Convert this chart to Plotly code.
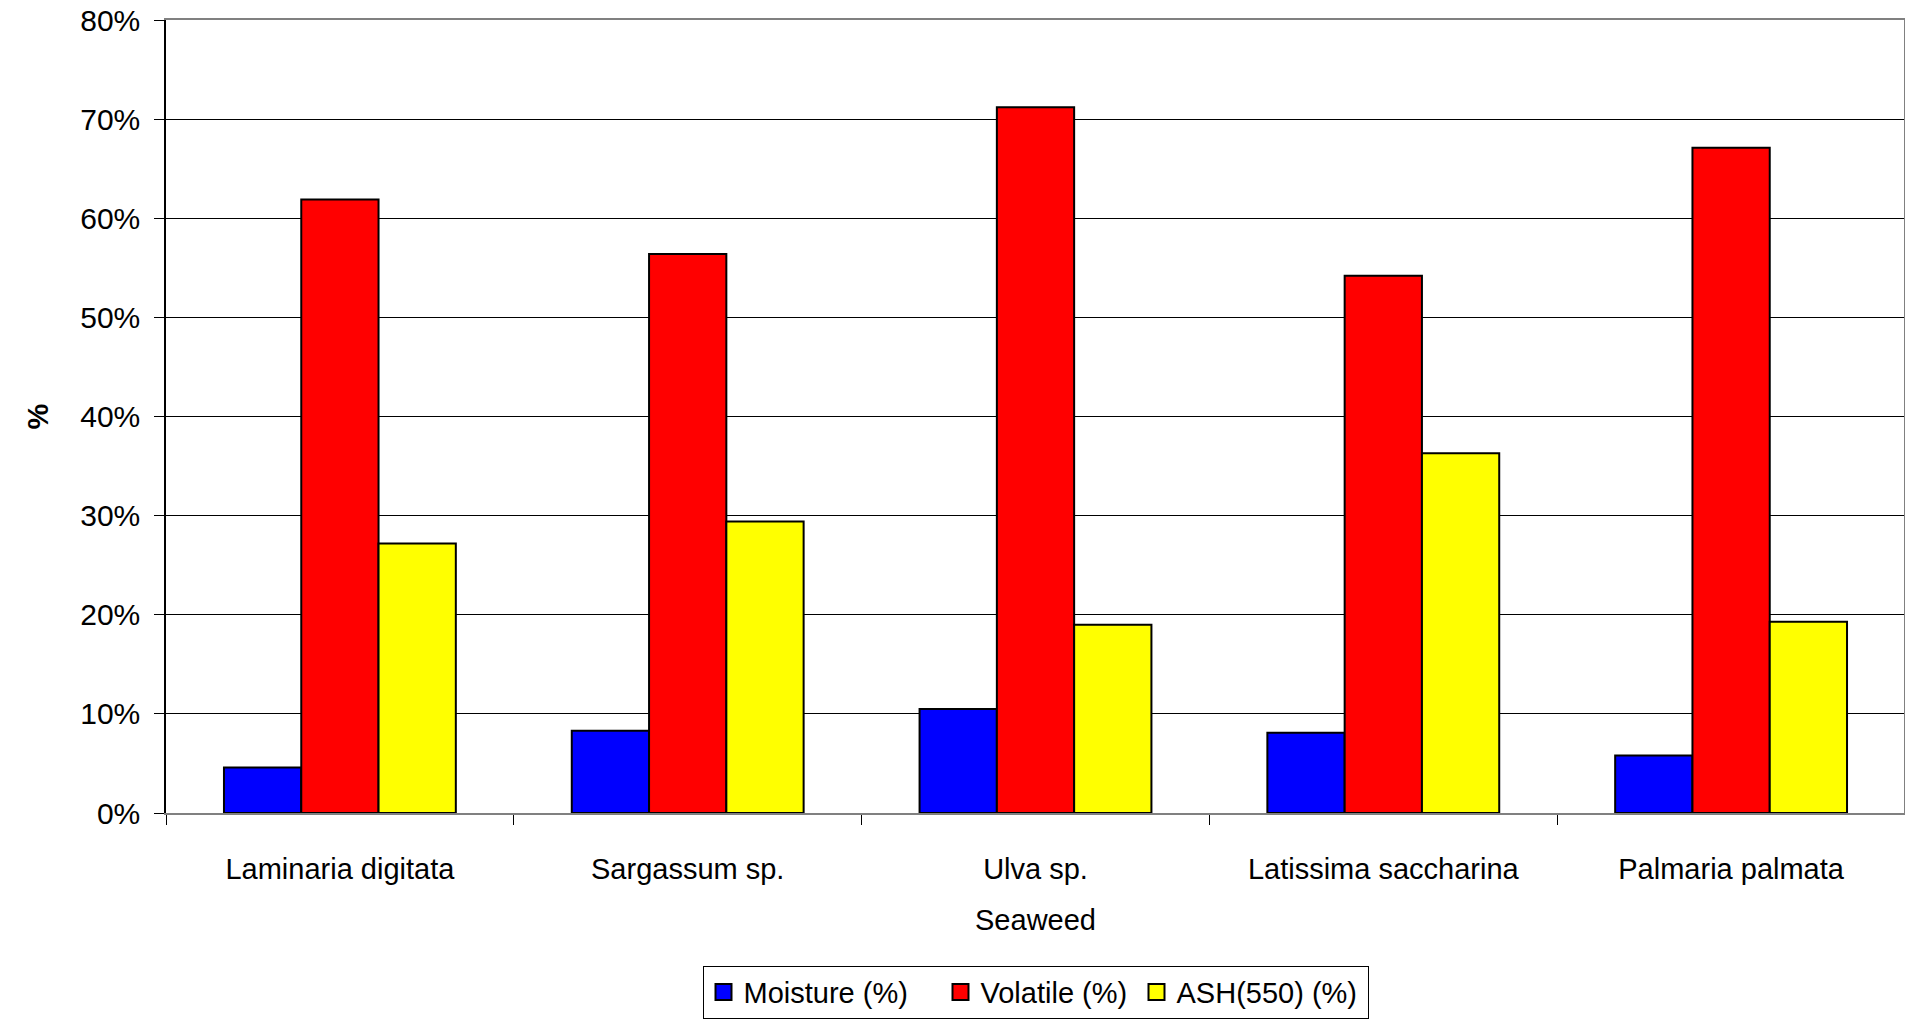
import plotly.graph_objects as go

# Proximate composition of five seaweed species (% of sample mass)
seaweeds = ["Laminaria digitata", "Sargassum sp.", "Ulva sp.",
            "Latissima saccharina", "Palmaria palmata"]
moisture = [4.6, 8.3, 10.5, 8.1, 5.8]
volatile = [61.9, 56.4, 71.2, 54.2, 67.1]
ash_550 = [27.2, 29.4, 19.0, 36.3, 19.3]

series_names = ["Moisture (%)", "Volatile (%)", "ASH(550) (%)"]
series_colors = ["#0000FF", "#FF0000", "#FFFF00"]
y_tick_values = [0, 10, 20, 30, 40, 50, 60, 70, 80]
y_tick_labels = ["0%", "10%", "20%", "30%", "40%", "50%", "60%", "70%", "80%"]

FONT = "Arial, 'Liberation Sans', sans-serif"
legend_entry_widths = [192, 151, 186]

fig = go.Figure()
for name, values, color in zip(series_names, [moisture, volatile, ash_550], series_colors):
    fig.add_trace(go.Bar(
        x=seaweeds, y=values, name=name, showlegend=False,
        marker=dict(color=color, line=dict(color="#000000", width=2)),
    ))

# legend keys: square swatches with a black outline
for name, color, lw in zip(series_names, series_colors, legend_entry_widths):
    fig.add_trace(go.Scatter(
        x=[None], y=[None], mode="markers", name=name, legendwidth=lw,
        marker=dict(symbol="square", size=16, color=color,
                    line=dict(color="#000000", width=2)),
        hoverinfo="skip",
    ))

fig.update_layout(
    width=1905, height=1019,
    margin=dict(l=166, r=0, t=20, b=199, pad=0),
    paper_bgcolor="#FFFFFF", plot_bgcolor="#FFFFFF",
    font=dict(family=FONT, size=29, color="#000000"),
    barmode="group", bargap=1/3, bargroupgap=0,
    showlegend=True,
    legend=dict(
        orientation="h", x=0.5, xanchor="center", y=-0.1925, yanchor="top",
        bgcolor="#FFFFFF", bordercolor="#000000", borderwidth=1,
        font=dict(family=FONT, size=29, color="#000000"),
        itemsizing="trace",
    ),
)

fig.update_xaxes(
    type="category",
    showline=True, linecolor="#808080", linewidth=2, mirror=True,
    ticks="outside", tickson="boundaries", ticklen=10, tickcolor="#000000", tickwidth=1,
    showgrid=False,
    ticklabelstandoff=29,
    tickfont=dict(size=29),
    title=dict(text="Seaweed", font=dict(size=29), standoff=26),
)

fig.update_yaxes(
    range=[0, 80], tickvals=y_tick_values, ticktext=y_tick_labels,
    showline=True, linecolor="#000000", linewidth=1.5, mirror=False,
    ticks="outside", ticklen=10, tickcolor="#000000", tickwidth=1,
    showgrid=True, gridcolor="#000000", gridwidth=1,
    zeroline=False,
    ticklabelstandoff=8,
    tickfont=dict(size=30),
    title=dict(text="<b>%</b>", font=dict(size=29), standoff=23),
)

# right edge of the plot area
fig.add_shape(type="line", xref="paper", yref="paper", x0=1, x1=1, y0=0, y1=1,
              line=dict(color="#808080", width=2))

fig.write_html("out.html")
